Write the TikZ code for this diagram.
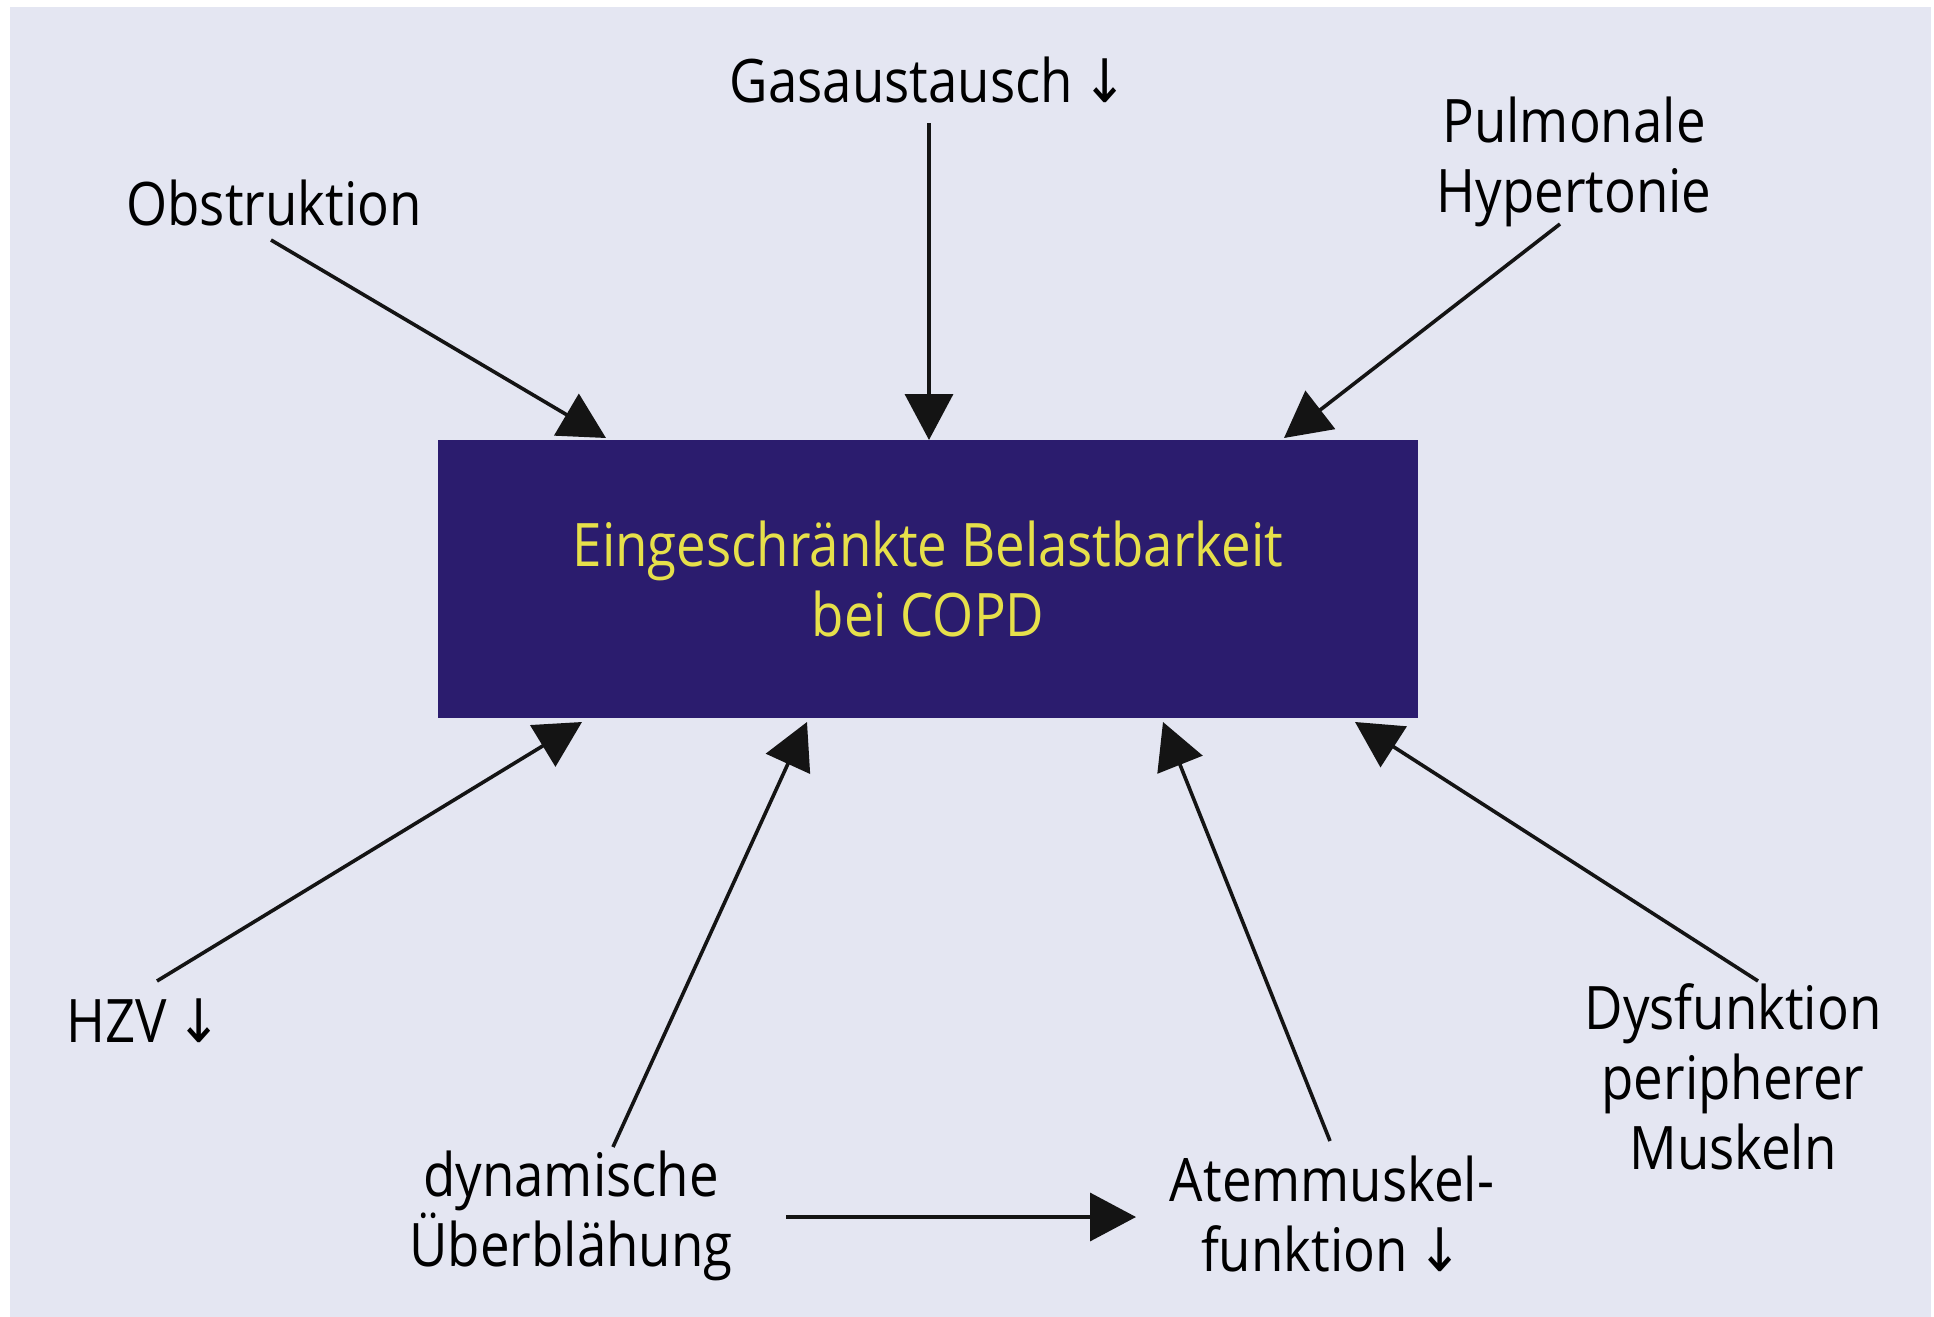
\documentclass[tikz,border=0pt]{standalone}
\usepackage{fontspec}
\setmainfont{Open Sans}[FakeStretch=0.88]
\newfontfamily\arrowfont{DejaVu Sans}[FakeStretch=0.9]
\newcommand{\dnarrow}{{\arrowfont ↓}}
\usetikzlibrary{arrows.meta,calc}
\definecolor{bgcol}{HTML}{E4E6F2}
\definecolor{boxcol}{HTML}{2B1C6E}
\definecolor{txtyel}{HTML}{E6E04A}
\tikzset{
  lbl/.style={align=center,inner sep=0pt,font=\fontsize{30}{35}\selectfont,text=black},
  conn/.style={line width=1.8pt,draw=black!92,-{Triangle[length=23pt,width=24pt]}},
}
\begin{document}
\begin{tikzpicture}[x=0.5pt,y=-0.5pt]
\useasboundingbox (0,0) rectangle (1934,1317);
\fill[white] (0,0) rectangle (1934,1317);
\fill[bgcol] (10,7) rectangle (1931,1317);
% central box
\node[fill=boxcol,minimum width=490pt,minimum height=139pt,inner sep=0pt,
      align=center,text=txtyel,font=\fontsize{30}{35}\selectfont] (box) at (928,579)
      {Eingeschränkte Belastbarkeit\\bei COPD};
% labels
\node[lbl] (gas) at (929,80) {Gasaustausch\,\dnarrow};
\node[lbl] (obs) at (274,203) {Obstruktion};
\node[lbl] (pul) at (1574,162) {Pulmonale\\Hypertonie};
\node[lbl] (hzv) at (144,1021) {HZV\,\dnarrow};
\node[lbl] (dyn) at (571,1216) {dynamische\\Überblähung};
\node[lbl] (atm) at (1332,1214) {Atemmuskel-\\funktion\,\dnarrow};
\node[lbl] (dys) at (1733,1077) {Dysfunktion\\peripherer\\Muskeln};
% connector end points
\coordinate (obsS) at (271,240);  \coordinate (obsT) at (606,438);
\coordinate (gasS) at (929,123);  \coordinate (gasT) at (929,440);
\coordinate (pulS) at (1560,224); \coordinate (pulT) at (1284,438);
\coordinate (hzvS) at (157,981);  \coordinate (hzvT) at (582,722);
\coordinate (dynS) at (613,1147); \coordinate (dynT) at (807,722);
\coordinate (atmS) at (1330,1141);\coordinate (atmT) at (1163,722);
\coordinate (dysS) at (1758,981); \coordinate (dysT) at (1355,722);
\coordinate (horS) at (786,1217); \coordinate (horT) at (1136,1217);
\draw[conn] (obsS) -- (obsT);
\draw[conn] (gasS) -- (gasT);
\draw[conn] (pulS) -- (pulT);
\draw[conn] (hzvS) -- (hzvT);
\draw[conn] (dynS) -- (dynT);
\draw[conn] (atmS) -- (atmT);
\draw[conn] (dysS) -- (dysT);
\draw[conn] (horS) -- (horT);
\end{tikzpicture}
\end{document}
